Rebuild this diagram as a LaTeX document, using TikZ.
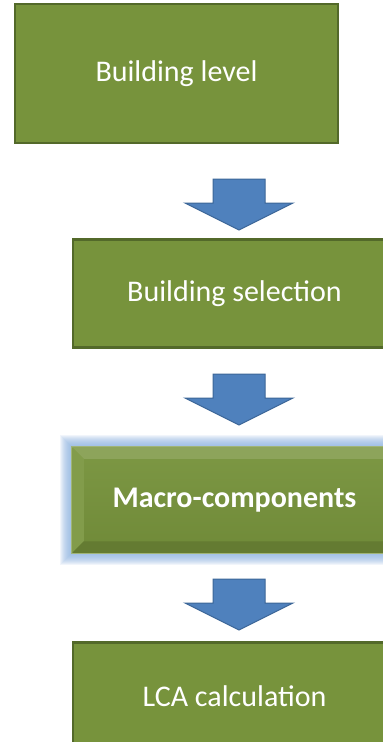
\documentclass[tikz,border=0pt]{standalone}
\usepackage{fontspec}
\setmainfont{Carlito}
\usetikzlibrary{positioning,backgrounds}

\definecolor{stagegreen}{HTML}{77933C}
\definecolor{stageedge}{HTML}{53692A}
\definecolor{arrowblue}{HTML}{4F81BD}
\definecolor{arrowedge}{HTML}{3C6698}
\definecolor{glowblue}{HTML}{8DB3E2}

\begin{document}
\begin{tikzpicture}
    [x=1pt,y=1pt,
    stage/.style={rectangle,draw=stageedge,fill=stagegreen,line width=2.5pt,
    inner sep=0pt,minimum width=323pt,minimum height=108pt,text=white,
    font=\fontsize{30}{36}\selectfont},
    bevelled/.style={stage,draw=none,top color=stagegreen!96!white,bottom color=stagegreen!94!black,
    font=\fontsize{30}{36}\selectfont\bfseries},
    blockarrow/.style={draw=arrowedge,fill=arrowblue,line width=1pt,line join=miter}]
    \useasboundingbox (0,0) rectangle (383,-742);
    \clip (0,0) rectangle (383,-742);

    \node[stage,minimum height=139pt] (level) at (176.5,-73.5) {Building level};
    \node[stage] (selection) [below=94pt of level.south,xshift=58pt] {Building selection};
    \node[bevelled,minimum height=104pt] (macro) [below=98pt of selection.south] {Macro-components};
    \node[stage] (lca) [below=88pt of macro.south] {LCA calculation};

    % white page, then a soft blue halo round the highlighted step
    \begin{scope}[on background layer]
        \fill[white] (0,0) rectangle (383,-742);
        \foreach \g in {1,...,12}
            \fill[glowblue,opacity=0.12] ([shift={(-\g,\g)}]macro.north west) rectangle ([shift={(\g,-\g)}]macro.south east);
    \end{scope}

    % bevel edges
    \fill[stagegreen!84!white] (macro.north west) -- (macro.north east)
        -- ([shift={(-12,-12)}]macro.north east) -- ([shift={(12,-12)}]macro.north west) -- cycle;
    \fill[stagegreen!92!white] (macro.north west) -- ([shift={(12,-12)}]macro.north west)
        -- ([shift={(12,12)}]macro.south west) -- (macro.south west) -- cycle;
    \fill[stagegreen!84!black] (macro.south west) -- ([shift={(12,12)}]macro.south west)
        -- ([shift={(-12,12)}]macro.south east) -- (macro.south east) -- cycle;
    \fill[stagegreen!90!black] (macro.north east) -- ([shift={(-12,-12)}]macro.north east)
        -- ([shift={(-12,12)}]macro.south east) -- (macro.south east) -- cycle;
    \draw[stagegreen!70!white,line width=0.6pt] (macro.north west) rectangle (macro.south east);

    % block arrows between the steps
    \coordinate (arrow1) at (239,-179);
    \coordinate (arrow2) at (239,-374);
    \coordinate (arrow3) at (239,-579);
    \foreach \a in {arrow1,arrow2,arrow3}
        \draw[blockarrow] (\a) ++(-26,0) -- ++(52,0) -- ++(0,-24) -- ++(28,0)
            -- ++(-54,-27) -- ++(-54,27) -- ++(28,0) -- cycle;
\end{tikzpicture}
\end{document}
